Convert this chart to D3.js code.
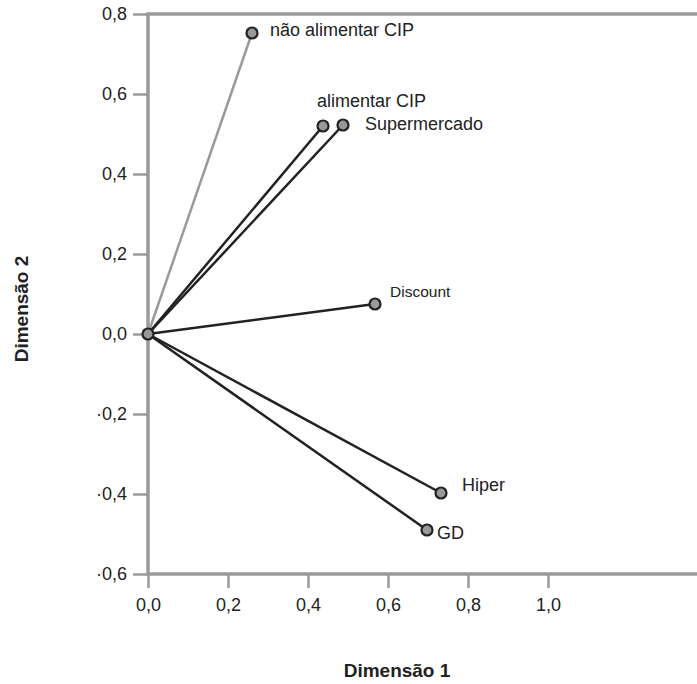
<!DOCTYPE html>
<html>
<head>
<meta charset="utf-8">
<script src="https://cdn.jsdelivr.net/npm/d3@7/dist/d3.min.js"></script>
<style>
  body { margin: 0; background: #fff; }
  svg { display: block; font-family: "Liberation Sans", Arial, sans-serif; }
</style>
</head>
<body>
<div id="chart"></div>
<script>
'use strict';

// data
var names = ["não alimentar CIP", "alimentar CIP", "Supermercado", "Discount", "Hiper", "GD"];
var dim1 = [0.260, 0.4375, 0.4875, 0.5675, 0.7325, 0.6975];
var dim2 = [0.7525, 0.520, 0.5225, 0.075, -0.3975, -0.490];
var xTicks = [0, 0.2, 0.4, 0.6, 0.8, 1.0];
var yTicks = [-0.6, -0.4, -0.2, 0, 0.2, 0.4, 0.6, 0.8];

(function() {
  var width = 697, height = 684;
  var plotLeft = 148, plotTop = 14, plotBottom = 574;

  var x = d3.scaleLinear().domain([0, 1.3725]).range([plotLeft, width]);
  var y = d3.scaleLinear().domain([-0.6, 0.8]).range([plotBottom, plotTop]);

  // decimal comma, minus drawn as a small dot like the source
  function fmt(v) {
    return d3.format(".1f")(Math.abs(v)).replace(".", ",");
  }

  var svg = d3.select("#chart").append("svg")
      .attr("width", width)
      .attr("height", height);

  var frameColor = "#9a9a9a";

  // frame (top, left, bottom)
  svg.append("path")
      .attr("d", "M" + width + "," + plotTop + "H" + plotLeft + "V" + plotBottom + "H" + width)
      .attr("fill", "none")
      .attr("stroke", frameColor)
      .attr("stroke-width", 3.5);

  var yAxis = svg.append("g")
      .attr("transform", "translate(" + plotLeft + ",0)")
      .call(d3.axisLeft(y).tickValues(yTicks).tickFormat(fmt).tickSize(15).tickPadding(6));

  var xAxis = svg.append("g")
      .attr("transform", "translate(0," + plotBottom + ")")
      .call(d3.axisBottom(x).tickValues(xTicks).tickFormat(fmt).tickSize(14).tickPadding(10));

  [xAxis, yAxis].forEach(function(ax) {
    ax.select(".domain").remove();
    ax.selectAll(".tick line").attr("stroke", frameColor).attr("stroke-width", 2.5);
    ax.selectAll(".tick text")
      .attr("fill", "#222")
      .style("font-size", "18px")
      .style("font-family", "'Liberation Sans', Arial, sans-serif");
  });

  // small dot for negative values
  yAxis.selectAll(".tick text")
    .filter(function(d) { return d < 0; })
    .text(function(d) { return "·" + fmt(d); });

  var data = names.map(function(n, i) { return { name: n, d1: dim1[i], d2: dim2[i] }; });

  var labelOffsets = {
    "não alimentar CIP": [18, 3, 18],
    "alimentar CIP": [-6, -19, 18],
    "Supermercado": [22, 5, 18],
    "Discount": [15, -7, 15.5],
    "Hiper": [21, -2, 18],
    "GD": [10, 9, 18]
  };

  svg.append("g")
    .selectAll("line")
    .data(data)
    .join("line")
      .attr("x1", x(0))
      .attr("y1", y(0))
      .attr("x2", function(d) { return x(d.d1); })
      .attr("y2", function(d) { return y(d.d2); })
      .attr("stroke", function(d, i) { return i === 0 ? "#9a9a9a" : "#222"; })
      .attr("stroke-width", 2.5);

  svg.append("circle")
      .attr("cx", x(0))
      .attr("cy", y(0))
      .attr("r", 5.5)
      .attr("fill", "#999")
      .attr("stroke", "#222")
      .attr("stroke-width", 2.2);

  svg.append("g")
    .selectAll("circle")
    .data(data)
    .join("circle")
      .attr("cx", function(d) { return x(d.d1); })
      .attr("cy", function(d) { return y(d.d2); })
      .attr("r", 5.5)
      .attr("fill", "#999")
      .attr("stroke", "#222")
      .attr("stroke-width", 2.2);

  svg.append("g")
    .selectAll("text")
    .data(data)
    .join("text")
      .attr("x", function(d) { return x(d.d1) + labelOffsets[d.name][0]; })
      .attr("y", function(d) { return y(d.d2) + labelOffsets[d.name][1]; })
      .attr("fill", "#222")
      .style("font-size", function(d) { return labelOffsets[d.name][2] + "px"; })
      .text(function(d) { return d.name; });

  svg.append("text")
      .attr("x", 397)
      .attr("y", 677)
      .attr("text-anchor", "middle")
      .attr("fill", "#222")
      .style("font-size", "19px")
      .style("font-weight", "bold")
      .text("Dimensão 1");

  svg.append("text")
      .attr("transform", "translate(28,309) rotate(-90)")
      .attr("text-anchor", "middle")
      .attr("fill", "#222")
      .style("font-size", "19px")
      .style("font-weight", "bold")
      .text("Dimensão 2");
})();
</script>
</body>
</html>
